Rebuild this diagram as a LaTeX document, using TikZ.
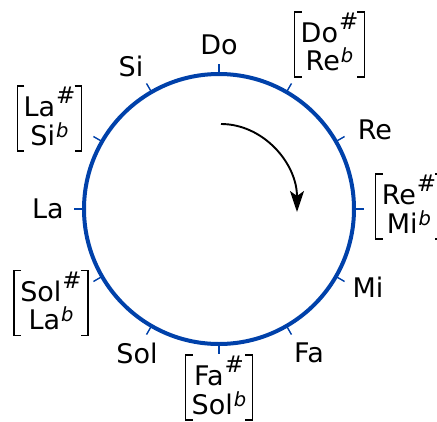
\documentclass[tikz,border=0pt]{standalone}
\usepackage{fontspec}
\setmainfont{DejaVu Sans}
\usetikzlibrary{calc,arrows.meta}
\definecolor{circblue}{RGB}{0,65,170}
\newcommand\shp[1]{#1\kern1pt\smash{\raisebox{13pt}{\fontsize{23}{23}\selectfont\#}}}
\newcommand\flt[1]{#1\kern1pt\smash{\raisebox{8pt}{\fontsize{19.5}{19.5}\selectfont\itshape b}}}
\newcommand\pairnode[5]{%
  \node[lbl] (#1) at (#2,#3+6.5) {\begin{tabular}{@{}c@{}}#4\\#5\end{tabular}};
  \draw[brk] ($(#1.west)+(1,-39)$) -- ($(#1.west)+(-6,-39)$) -- ($(#1.west)+(-6,26)$) -- ($(#1.west)+(1,26)$);
  \draw[brk] ($(#1.east)+(-1,-39)$) -- ($(#1.east)+(6,-39)$) -- ($(#1.east)+(6,26)$) -- ($(#1.east)+(-1,26)$);
}
\begin{document}
\begin{tikzpicture}[x=1pt,y=-1pt,
  lbl/.style={font=\fontsize{27}{27}\selectfont, inner sep=0pt},
  brk/.style={draw=black, line width=1.6pt, line cap=butt, line join=miter},
  ring/.style={circle, draw=circblue, line width=4pt, minimum size=270pt, inner sep=0pt, outer sep=0pt},
  tick/.style={draw=circblue, line width=1.4pt},
  turn/.style={draw=black, line width=1.9pt, -{Stealth[length=21pt,width=14pt,inset=5pt]}}]
\useasboundingbox (0,0) rectangle (437,421);
\node[ring] (ring) at (219,209) {};
\foreach \a in {0,30,...,330}
  \draw[tick] (ring.\a) -- ($(ring.\a)!-10pt!(ring.center)$);
\coordinate (arrS) at (221,124);
\coordinate (arrE) at (297,212);
\draw[turn] (arrS) .. controls (263,124) and (297,163) .. (arrE);
\node[lbl] (do) at (219,45) {Do};
\pairnode{dos}{329.5}{44.5}{\shp{Do}}{\flt{Re}}
\node[lbl] (re) at (375,130) {Re};
\pairnode{res}{409}{206.5}{\shp{Re}}{\flt{Mi}}
\node[lbl] (mi) at (368,287) {Mi};
\node[lbl] (fa) at (309,353) {Fa};
\pairnode{fas}{219}{387.5}{\shp{Fa}}{\flt{Sol}}
\node[lbl] (sol) at (137,353) {Sol};
\pairnode{sols}{51}{303}{\shp{Sol}}{\flt{La}}
\node[lbl] (la) at (48,209) {La};
\pairnode{las}{49.5}{118.5}{\shp{La}}{\flt{Si}}
\node[lbl] (si) at (131,66) {Si};
\end{tikzpicture}
\end{document}
